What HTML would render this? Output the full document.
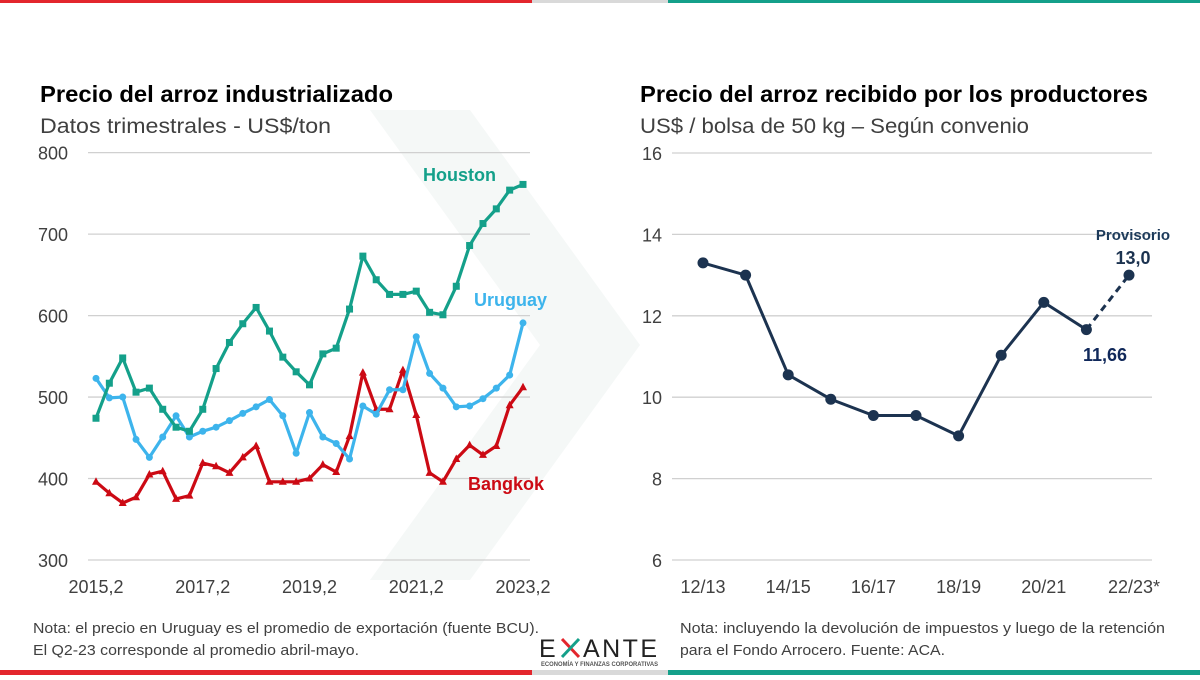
<!DOCTYPE html>
<html><head><meta charset="utf-8"><style>
body{margin:0;width:1200px;height:675px;background:#fff;overflow:hidden;font-family:"Liberation Sans",sans-serif;}
svg text{font-family:"Liberation Sans",sans-serif;}
</style></head><body>
<svg id="s" width="1200" height="675" xmlns="http://www.w3.org/2000/svg">
<rect x="0" y="0" width="532" height="3" fill="#e3262d"/>
<rect x="532" y="0" width="136" height="3" fill="#d9d9d9"/>
<rect x="668" y="0" width="532" height="3" fill="#14a08a"/>
<rect x="0" y="670" width="532" height="5" fill="#e3262d"/>
<rect x="532" y="670" width="136" height="5" fill="#d9d9d9"/>
<rect x="668" y="670" width="532" height="5" fill="#14a08a"/>
<polygon points="370,110 470,110 640,345 470,580 370,580 540,345" fill="#f5f8f7"/>
<text x="40" y="102" font-size="23" font-weight="bold" fill="#000" textLength="353" lengthAdjust="spacingAndGlyphs">Precio del arroz industrializado</text>
<text x="40" y="133" font-size="21" fill="#404040" textLength="291" lengthAdjust="spacingAndGlyphs">Datos trimestrales - US$/ton</text>
<text x="640" y="102" font-size="23" font-weight="bold" fill="#000" textLength="508" lengthAdjust="spacingAndGlyphs">Precio del arroz recibido por los productores</text>
<text x="640" y="133" font-size="21" fill="#404040" textLength="389" lengthAdjust="spacingAndGlyphs">US$ / bolsa de 50 kg – Según convenio</text>
<g id="L"></g>
<g id="R"></g>
<text x="33" y="633" font-size="15" fill="#404040" textLength="506" lengthAdjust="spacingAndGlyphs">Nota: el precio en Uruguay es el promedio de exportación (fuente BCU).</text>
<text x="33" y="655" font-size="15" fill="#404040" textLength="326" lengthAdjust="spacingAndGlyphs">El Q2-23 corresponde al promedio abril-mayo.</text>
<text x="680" y="633" font-size="15" fill="#404040" textLength="485" lengthAdjust="spacingAndGlyphs">Nota: incluyendo la devolución de impuestos y luego de la retención</text>
<text x="680" y="655" font-size="15" fill="#404040" textLength="265" lengthAdjust="spacingAndGlyphs">para el Fondo Arrocero. Fuente: ACA.</text>
<g>
<text x="539" y="657" font-size="25" fill="#222">E</text>
<line x1="562" y1="639" x2="579" y2="657" stroke="#e3262d" stroke-width="3"/>
<line x1="579" y1="639" x2="562" y2="657" stroke="#14a08a" stroke-width="3"/>
<text x="583" y="657" font-size="25" fill="#222" textLength="74">ANTE</text>
<text x="541" y="666" font-size="6.5" font-weight="bold" fill="#555" textLength="117" lengthAdjust="spacingAndGlyphs">ECONOMÍA Y FINANZAS CORPORATIVAS</text>
</g>
</svg>
<script>
const ns="http://www.w3.org/2000/svg";
function mk(p,t,a){const e=document.createElementNS(ns,t);for(const k in a)e.setAttribute(k,a[k]);p.appendChild(e);return e;}
// Left chart data
const leftYTicks=[300,400,500,600,700,800];
const leftXLabels=["2015,2","2017,2","2019,2","2021,2","2023,2"];
const houston=[474,517,548,506,511,485,463,458,485,535,567,590,610,581,549,531,515,553,560,608,673,644,626,626,630,604,601,636,686,713,731,754,761];
const uruguay=[523,499,500,448,426,451,477,451,458,463,471,480,488,497,477,431,481,451,443,424,489,479,509,509,574,529,511,488,489,498,511,527,591];
const bangkok=[396,382,370,377,405,409,375,379,419,415,407,426,440,396,396,396,400,417,408,452,530,485,485,533,478,407,396,424,441,429,440,490,512];
// Right chart data
const rightYTicks=[6,8,10,12,14,16];
const rightCats=["12/13","13/14","14/15","15/16","16/17","17/18","18/19","19/20","20/21","21/22","22/23*"];
const rightVals=[13.3,13.0,10.55,9.95,9.55,9.55,9.05,11.03,12.33,11.66,13.0];

const L=document.getElementById('L');
const lx=i=>96+i*(427/32), ly=v=>560-(v-300)*0.8147;
leftYTicks.forEach(t=>{
 const g=mk(L,'line',{x1:88,x2:530,y1:ly(t),y2:ly(t),stroke:'#d0d0d0','stroke-width':1.3});
 
 
 const tx=mk(L,'text',{x:68,y:ly(t)+7,'font-size':18,fill:'#404040','text-anchor':'end'});tx.textContent=t;
 
 
});
leftXLabels.forEach((l,i)=>{
 const tx=mk(L,'text',{x:lx(i*8),y:593,'font-size':18,fill:'#404040','text-anchor':'middle'});tx.textContent=l;
 
 
});
function series(arr,col,shape,name){
 const g=mk(L,'g',{});
 
 
 const pl=mk(g,'polyline',{points:arr.map((v,i)=>lx(i)+','+ly(v)).join(' '),fill:'none',stroke:col,'stroke-width':3.2,'stroke-linejoin':'round'});
 
 
 arr.forEach((v,i)=>{let m;const x=lx(i),y=ly(v);
  if(shape==='sq')m=mk(g,'rect',{x:x-3.5,y:y-3.5,width:7,height:7,fill:col});
  else if(shape==='c')m=mk(g,'circle',{cx:x,cy:y,r:3.5,fill:col});
  else m=mk(g,'polygon',{points:`${x},${y-4.5} ${x-4},${y+3} ${x+4},${y+3}`,fill:col});
  
  
 });
}
series(bangkok,'#cc0a14','t','bangkok');
series(uruguay,'#3db4ec','c','uruguay');
series(houston,'#14a08a','sq','houston');
[["Houston",423,181,'#14a08a'],["Uruguay",474,306,'#3db4ec'],["Bangkok",468,490,'#cc0a14']].forEach(a=>{
 const t=mk(L,'text',{x:a[1],y:a[2],'font-size':18,'font-weight':'bold',fill:a[3]});t.textContent=a[0];
 
 
});

const R=document.getElementById('R');
const rx=i=>703+i*42.6, ry=v=>560-(v-6)*40.7;
rightYTicks.forEach(t=>{
 const g=mk(R,'line',{x1:672,x2:1152,y1:ry(t),y2:ry(t),stroke:'#d0d0d0','stroke-width':1.3});
 
 
 const tx=mk(R,'text',{x:662,y:ry(t)+7,'font-size':18,fill:'#404040','text-anchor':'end'});tx.textContent=t;
 
 
});
rightCats.forEach((c,i)=>{if(i%2)return;
 const tx=mk(R,'text',{x:rx(i)+(i===10?5:0),y:593,'font-size':18,fill:'#404040','text-anchor':'middle'});tx.textContent=c;
 
 
});
const n=rightVals.length;
const rl=mk(R,'polyline',{points:rightVals.slice(0,n-1).map((v,i)=>rx(i)+','+ry(v)).join(' '),fill:'none',stroke:'#1c3350','stroke-width':3});


const dl=mk(R,'line',{x1:rx(n-2),y1:ry(rightVals[n-2]),x2:rx(n-1),y2:ry(rightVals[n-1]),stroke:'#1c3350','stroke-width':3,'stroke-dasharray':'7,5'});


rightVals.forEach((v,i)=>{const c=mk(R,'circle',{cx:rx(i),cy:ry(v),r:5.5,fill:'#1c3350'});
 
 
});
[["Provisorio",1133,240,15,'#1c3a5a'],["13,0",1133,264,18,'#1c3350'],["11,66",1105,361,18,'#10285a']].forEach(a=>{
 const t=mk(R,'text',{x:a[1],y:a[2],'font-size':a[3],'font-weight':'bold',fill:a[4],'text-anchor':'middle'});t.textContent=a[0];
 
 
});
</script>
</body></html>
